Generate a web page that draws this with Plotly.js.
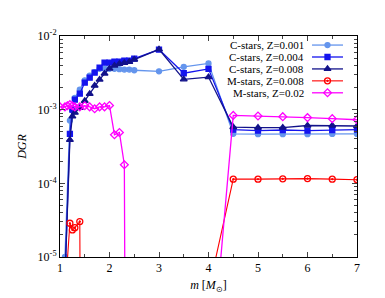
<!DOCTYPE html>
<html>
<head>
<meta charset="utf-8">
<script src="https://cdn.plot.ly/plotly-3.0.1.min.js"></script>
<style>html,body{margin:0;padding:0;background:#fff;}#chart{width:385px;height:298px;}</style>
</head>
<body>
<div id="chart"></div>
<script>
// ---- data ----
const massC = [1.1,1.2,1.25,1.3,1.4,1.5,1.6,1.7,1.8,1.9,2.0,2.1,2.2,2.3,2.4,2.5,3.0,3.5,4.0,4.5,5.0,5.5,6.0,6.5,7.0];
const dgrC001 = [1e-5,7.1e-4,9.8e-4,1.44e-3,1.87e-3,2.5e-3,2.9e-3,3.24e-3,3.58e-3,3.6e-3,3.58e-3,3.58e-3,3.55e-3,3.5e-3,3.5e-3,3.43e-3,3.32e-3,3.81e-3,4.25e-3,4.7e-4,4.65e-4,4.65e-4,4.65e-4,4.68e-4,4.68e-4];
const dgrC004 = [5e-6,4.7e-4,1.0e-3,1.37e-3,1.65e-3,2.33e-3,2.72e-3,3.19e-3,3.73e-3,4.36e-3,4.36e-3,4.5e-3,4.5e-3,4.64e-3,4.64e-3,4.94e-3,6.55e-3,3.12e-3,3.58e-3,5.35e-4,5.2e-4,5.3e-4,5.2e-4,5.3e-4,5.35e-4];
const dgrC008 = [5e-6,3.9e-4,8.1e-4,9.1e-4,1.06e-3,1.32e-3,1.64e-3,2.12e-3,2.56e-3,3.09e-3,3.61e-3,3.97e-3,4.19e-3,4.32e-3,4.46e-3,4.79e-3,6.6e-3,2.58e-3,2.77e-3,5.8e-4,5.7e-4,5.7e-4,6.1e-4,6.1e-4,6.0e-4];
const massM008 = [1.1,1.2,1.25,1.3,1.4,1.5,4.0,4.5,5.0,5.5,6.0,6.5,7.0];
const dgrM008 = [3e-6,2.87e-5,2.33e-5,2.5e-5,3.03e-5,1e-20,3.5e-6,1.14e-4,1.14e-4,1.15e-4,1.16e-4,1.14e-4,1.12e-4];
const massM02 = [1.0,1.1,1.15,1.2,1.25,1.3,1.4,1.5,1.6,1.7,1.8,1.9,2.0,2.1,2.2,2.3,2.4,4.0,4.5,5.0,5.5,6.0,6.5,7.0];
const dgrM02 = [1.09e-3,1.09e-3,1.13e-3,1.17e-3,1.13e-3,1.09e-3,1.09e-3,1.13e-3,1.09e-3,1.03e-3,1.09e-3,1.09e-3,1.14e-3,4.57e-4,4.9e-4,1.79e-4,1e-20,1.2e-7,8.36e-4,8.2e-4,8.03e-4,7.8e-4,7.55e-4,7.3e-4];
const seriesNames = ["C-stars, Z=0.001","C-stars, Z=0.004","C-stars, Z=0.008","M-stars, Z=0.008","M-stars, Z=0.02"];
const xTickVals = [1,2,3,4,5,6,7];
const yTickVals = [1e-5,1e-4,1e-3,1e-2];
const yTickText = ["10<sup>-5</sup>","10<sup>-4</sup>","10<sup>-3</sup>","10<sup>-2</sup>"];

// ---- styles ----
const FONT = "Liberation Serif, Times New Roman, serif";
const styles = [
  {color:"#6495ED", symbol:"circle", size:5, lw:1.3},
  {color:"#1414EE", symbol:"square", size:5, lw:1.3},
  {color:"#12128A", symbol:"triangle-up", size:6, lw:1.3},
  {color:"#FF0000", symbol:"circle-open-dot", size:6, lw:1.1},
  {color:"#FF00FF", symbol:"diamond-open", size:6, lw:1.3}
];
const xs = [massC, massC, massC, massM008, massM02];
const ys = [dgrC001, dgrC004, dgrC008, dgrM008, dgrM02];

const traces = [];
for (let i = 0; i < 5; i++) {
  const s = styles[i];
  traces.push({
    type:"scatter", mode:"lines+markers", name:seriesNames[i],
    x:xs[i], y:ys[i], showlegend:false, cliponaxis:true,
    line:{color:s.color, width:s.lw},
    marker:{symbol:s.symbol, size:s.size, color:s.color, line:{color:s.color, width:1.3}}
  });
}

// legend samples drawn on a small helper axis pair
const legRowTop = 0.959, legRowStep = 0.054;
const annotations = [];
for (let i = 0; i < 5; i++) {
  const s = styles[i];
  const yy = legRowTop - i*legRowStep;
  traces.push({
    type:"scatter", mode:"lines", x:[0,1], y:[yy,yy], xaxis:"x2", yaxis:"y2",
    showlegend:false, hoverinfo:"skip", line:{color:s.color, width:s.lw}
  });
  traces.push({
    type:"scatter", mode:"markers", x:[0.5], y:[yy], xaxis:"x2", yaxis:"y2",
    showlegend:false, hoverinfo:"skip",
    marker:{symbol:s.symbol, size:s.size, color:s.color, line:{color:s.color, width:1.3}}
  });
  annotations.push({
    xref:"paper", yref:"paper", x:0.827, y:yy, xanchor:"right", yanchor:"middle",
    text:seriesNames[i], showarrow:false, font:{family:FONT, size:11, color:"#000"}
  });
}

const minorY = [];
for (let e = -5; e < -2; e++) for (let k = 2; k <= 9; k++) minorY.push(k*Math.pow(10,e));

const layout = {
  width:385, height:298,
  margin:{l:60, r:28, t:36, b:41},
  paper_bgcolor:"#fff", plot_bgcolor:"rgba(0,0,0,0)",
  font:{family:FONT, size:11, color:"#000"},
  showlegend:false,
  xaxis:{
    range:[1,7], tickvals:xTickVals, ticks:"inside", ticklen:5, tickwidth:1,
    showline:true, linecolor:"#000", linewidth:1, mirror:"ticks",
    showgrid:false, zeroline:false, tickfont:{family:FONT, size:12},
    minor:{dtick:0.5, ticks:"inside", ticklen:3, showgrid:false},
    title:{text:"<i>m</i> [<i>M</i><sub>⊙</sub>]", font:{family:FONT, size:12}, standoff:6}
  },
  yaxis:{
    type:"log", range:[-5,-2], tickvals:yTickVals, ticktext:yTickText,
    ticks:"inside", ticklen:5, tickwidth:1,
    showline:true, linecolor:"#000", linewidth:1, mirror:"ticks",
    showgrid:false, zeroline:false, tickfont:{family:FONT, size:12},
    minor:{tickvals:minorY, ticks:"inside", ticklen:3, showgrid:false},
    title:{text:"<i>DGR</i>", font:{family:FONT, size:12}, standoff:8}
  },
  xaxis2:{domain:[0.8485,0.9529], range:[0,1], visible:false, fixedrange:true, anchor:"y2"},
  yaxis2:{domain:[0,1], range:[0,1], visible:false, fixedrange:true, anchor:"x2"},
  annotations:annotations
};

Plotly.newPlot("chart", traces, layout, {displayModeBar:false, staticPlot:true});
</script>
</body>
</html>
